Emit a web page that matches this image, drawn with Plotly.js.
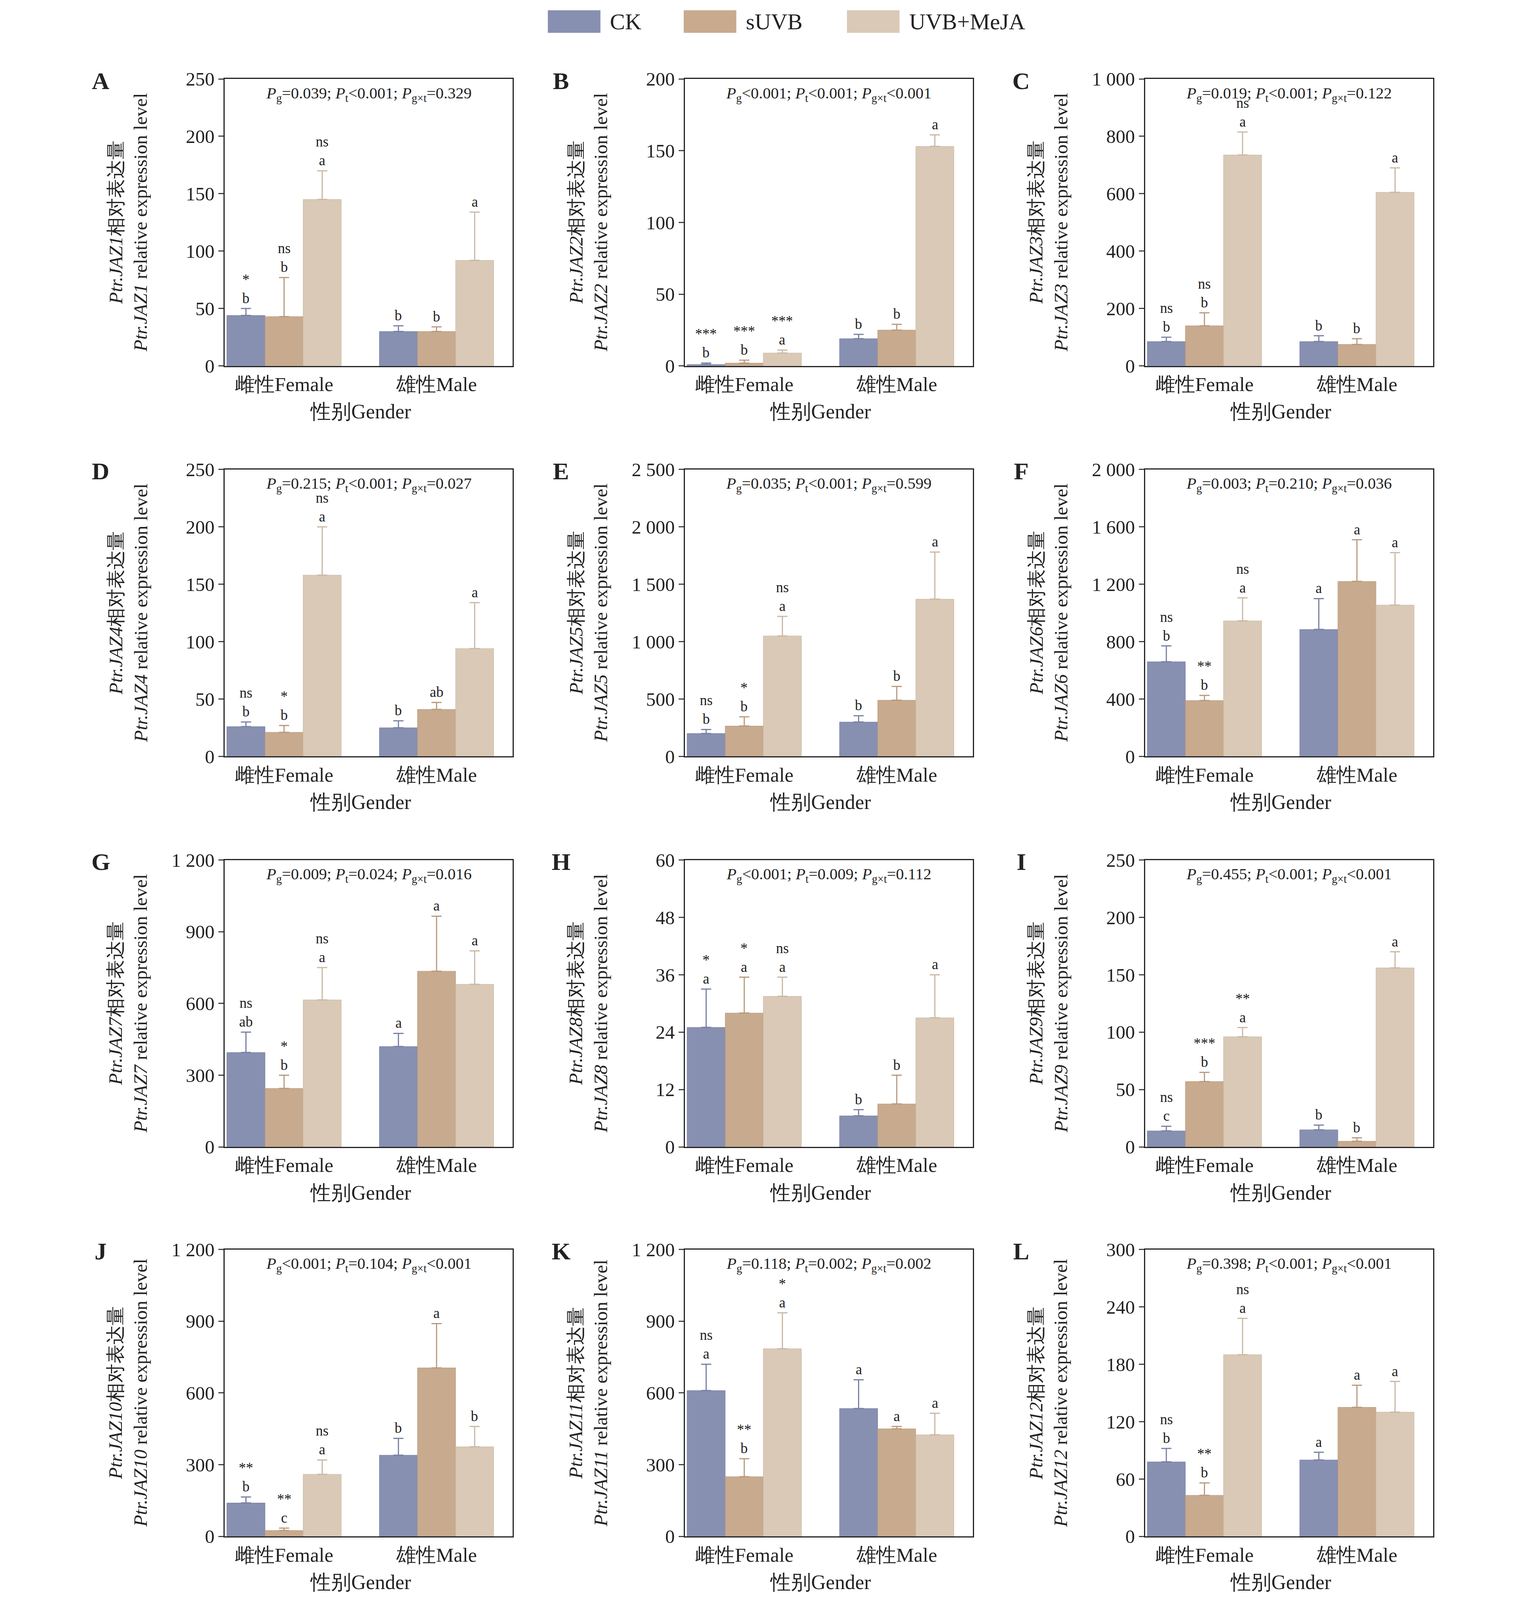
<!DOCTYPE html>
<html><head><meta charset="utf-8">
<script src="https://cdn.plot.ly/plotly-3.0.1.min.js"></script>
<style>html,body{margin:0;padding:0;overflow:hidden;background:#fff}</style>
</head><body><div id="chart"></div>
<script>
const groups = ["雌性Female", "雄性Male"];
const series = ["CK", "sUVB", "UVB+MeJA"];
const colors = ["#8790b1", "#c8aa8e", "#d9c9b6"];
const errColors = ["#7880a3", "#b8997d", "#c9b8a4"];
const panels = ["A","B","C","D","E","F","G","H","I","J","K","L"];
const pText = [
  ["=0.039","<0.001","=0.329"],["<0.001","<0.001","<0.001"],["=0.019","<0.001","=0.122"],
  ["=0.215","<0.001","=0.027"],["=0.035","<0.001","=0.599"],["=0.003","=0.210","=0.036"],
  ["=0.009","=0.024","=0.016"],["<0.001","=0.009","=0.112"],["=0.455","<0.001","<0.001"],
  ["<0.001","=0.104","<0.001"],["=0.118","=0.002","=0.002"],["=0.398","<0.001","<0.001"]
];
const yMax = [250,200,1000,250,2500,2000,1200,60,250,1200,1200,300];
const yStep = [50,50,200,50,500,400,300,12,50,300,300,60];
// values [series][group]
const means = [
  [[44,30],[43,30],[145,92]],
  [[1,19],[2,25],[9,153]],
  [[85,85],[140,75],[735,605]],
  [[26,25],[21,41],[158,94]],
  [[200,300],[265,490],[1050,1370]],
  [[660,885],[390,1220],[945,1055]],
  [[395,420],[245,735],[615,680]],
  [[25,6.5],[28,9],[31.5,27]],
  [[14,15],[57,5],[96,156]],
  [[140,340],[25,705],[260,375]],
  [[610,535],[250,450],[785,425]],
  [[78,80],[43,135],[190,130]]
];
const tops = [
  [[50,35],[77,34],[170,134]],
  [[2,22],[4,29],[11,161]],
  [[100,105],[185,95],[815,690]],
  [[30,31],[27,47],[200,134]],
  [[235,355],[345,610],[1220,1780]],
  [[770,1100],[425,1510],[1105,1420]],
  [[480,475],[300,965],[750,820]],
  [[33,7.8],[35.5,15],[35.5,36]],
  [[18,19],[65,8],[104,170]],
  [[165,410],[35,890],[320,460]],
  [[720,655],[325,460],[935,515]],
  [[92,88],[56,158],[228,162]]
];
const letters = [
  [["*<br>b","b"],["ns<br>b","b"],["ns<br>a","a"]],
  [["***<br>b","b"],["***<br>b","b"],["***<br>a","a"]],
  [["ns<br>b","b"],["ns<br>b","b"],["ns<br>a","a"]],
  [["ns<br>b","b"],["*<br>b","ab"],["ns<br>a","a"]],
  [["ns<br>b","b"],["*<br>b","b"],["ns<br>a","a"]],
  [["ns<br>b","a"],["**<br>b","a"],["ns<br>a","a"]],
  [["ns<br>ab","a"],["*<br>b","a"],["ns<br>a","a"]],
  [["*<br>a","b"],["*<br>a","b"],["ns<br>a","a"]],
  [["ns<br>c","b"],["***<br>b","b"],["**<br>a","a"]],
  [["**<br>b","b"],["**<br>c","a"],["ns<br>a","b"]],
  [["ns<br>a","a"],["**<br>b","a"],["*<br>a","a"]],
  [["ns<br>b","a"],["**<br>b","a"],["ns<br>a","a"]]
];

const W = window.innerWidth || 3898, H = window.innerHeight || 4370;
const k0 = Math.min(W / 3898, H / 4370);
const fs = v => Math.round(v * k0);
const colLeft = [205, 625, 1045], plotW = 263;
const rowTop = [77, 458, 839, 1219], plotH = 280;
const RW = 1390, RH = 1561;
const font = "Liberation Serif, Times New Roman, serif";
const fmt = v => v >= 1000 ? Math.floor(v/1000) + " " + String(v%1000).padStart(3,"0") : String(v);
const bw = 0.25;
document.getElementById("chart").style.width = W + "px";
document.getElementById("chart").style.height = H + "px";

const traces = [], annotations = [], shapes = [];
const layout = {
  width: W, height: H, margin: {l:0,r:0,t:0,b:0}, barmode: "overlay",
  paper_bgcolor: "#fff", plot_bgcolor: "#fff", font: {family: font, size: fs(50), color: "#222"},
  showlegend: false, annotations, shapes
};

// legend drawn by hand so the swatches are wide rectangles
const legX = [500, 624, 773];
series.forEach((s, k) => {
  shapes.push({type: "rect", xref: "paper", yref: "paper", x0: legX[k]/RW, x1: (legX[k]+48)/RW,
    y0: 1 - 32/RH, y1: 1 - 10/RH, fillcolor: colors[k], line: {width: 0}});
  annotations.push({xref: "paper", yref: "paper", x: (legX[k]+56)/RW, y: 1 - 21/RH, xanchor: "left",
    yanchor: "middle", showarrow: false, text: s, font: {size: fs(62)}});
});

panels.forEach((p, i) => {
  const r = Math.floor(i/3), c = i % 3, n = i + 1;
  const xa = "xaxis" + (n === 1 ? "" : n), ya = "yaxis" + (n === 1 ? "" : n);
  const xr = "x" + (n === 1 ? "" : n), yr = "y" + (n === 1 ? "" : n);
  const x0 = colLeft[c]/RW, x1 = (colLeft[c]+plotW)/RW;
  const y1 = 1 - rowTop[r]/RH, y0 = 1 - (rowTop[r]+plotH)/RH;
  const tv = [];
  for (let v = 0; v <= yMax[i] + 1e-9; v += yStep[i]) tv.push(v);
  layout[xa] = {domain: [x0, x1], anchor: yr, range: [-0.39, 1.5], tickvals: [0, 1], ticktext: groups,
    showline: true, linecolor: "#222", linewidth: 3, mirror: true, ticks: "", showgrid: false,
    zeroline: false, tickfont: {size: fs(54)}};
  layout[ya] = {domain: [y0, y1], anchor: xr, range: [0, yMax[i]], tickvals: tv, ticktext: tv.map(fmt),
    showline: true, linecolor: "#222", linewidth: 3, mirror: true, ticks: "outside", ticklen: fs(14),
    tickwidth: 3, showgrid: false, zeroline: false, tickfont: {size: fs(52)}};
  series.forEach((s, k) => {
    const xs = groups.map((g, gi) => gi + (k - 1) * bw);
    traces.push({type: "bar", name: s, x: xs, y: means[i][k], width: bw, xaxis: xr, yaxis: yr,
      marker: {color: colors[k], line: {color: errColors[k], width: 1}},
      error_y: {type: "data", symmetric: false, array: means[i][k].map((m, gi) => tops[i][k][gi] - m),
        arrayminus: [0, 0], color: errColors[k], thickness: 3, width: fs(14)}});
    groups.forEach((g, gi) => {
      annotations.push({xref: xr, yref: yr, x: gi + (k - 1) * bw, y: tops[i][k][gi], xanchor: "center",
        yanchor: "bottom", yshift: fs(4), text: letters[i][k][gi], showarrow: false, font: {size: fs(40)}});
    });
  });
  const pv = pText[i];
  annotations.push({xref: "paper", yref: "paper", x: (x0+x1)/2, y: y1 - 4/RH, xanchor: "center", yanchor: "top",
    showarrow: false, font: {size: fs(44)},
    text: `<i>P</i><sub>g</sub>${pv[0]}; <i>P</i><sub>t</sub>${pv[1]}; <i>P</i><sub>g×t</sub>${pv[2]}`});
  annotations.push({xref: "paper", yref: "paper", x: (colLeft[c]-88)/RW, y: (y0+y1)/2, xanchor: "center",
    yanchor: "middle", textangle: -90, showarrow: false, font: {size: fs(52)},
    text: `<i>Ptr.JAZ${n}</i>相对表达量<br><i>Ptr.JAZ${n}</i> relative expression level`});
  annotations.push({xref: xr, yref: "paper", x: 0.5, y: y0 - 33/RH, xanchor: "center", yanchor: "top",
    showarrow: false, text: "性别Gender", font: {size: fs(56)}});
  annotations.push({xref: "paper", yref: "paper", x: (colLeft[c]-113)/RW, y: y1 + 12/RH, yanchor: "top",
    xanchor: "center", showarrow: false, text: "<b>" + p + "</b>", font: {size: fs(66)}});
});

Plotly.newPlot("chart", traces, layout, {staticPlot: true});
</script></body></html>
